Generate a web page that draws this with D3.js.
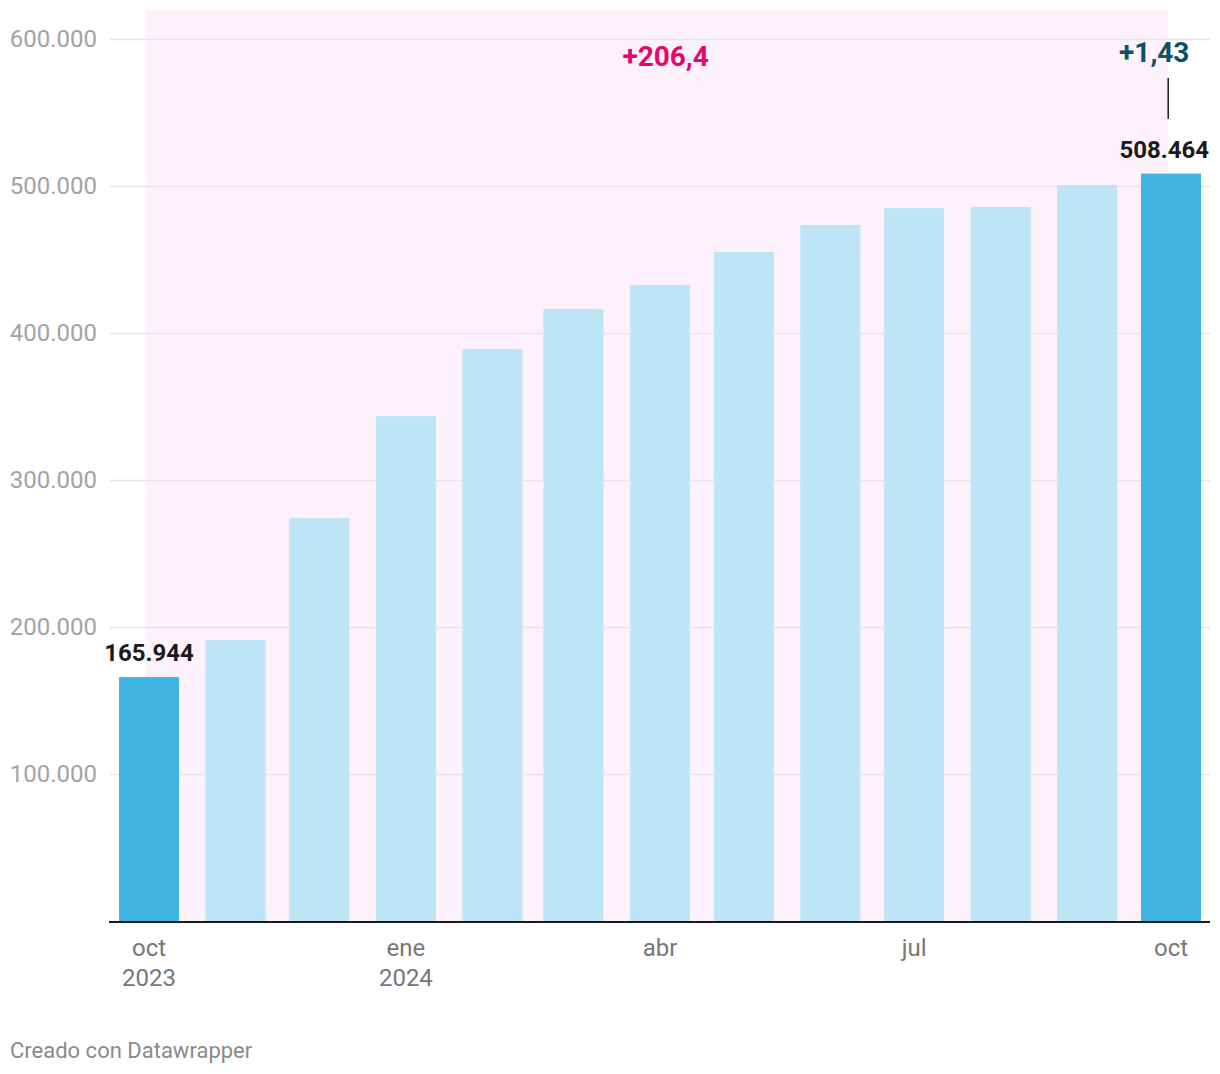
<!DOCTYPE html>
<html><head><meta charset="utf-8">
<script src="https://cdn.jsdelivr.net/npm/d3@7"></script>
<style>body{margin:0;background:#fff;font-family:Roboto,"Noto Sans",sans-serif;} svg{display:block}</style>
</head><body>
<svg id="c" width="1220" height="1074"></svg>
<script>
const months = ["2023-10-01","2023-11-01","2023-12-01","2024-01-01","2024-02-01","2024-03-01","2024-04-01","2024-05-01","2024-06-01","2024-07-01","2024-08-01","2024-09-01","2024-10-01"];
const values = [165944,191200,274100,343500,389100,416300,432700,455100,473500,485000,485700,500700,508464];
const highlighted = [true,false,false,false,false,false,false,false,false,false,false,false,true];
const yTicks = [100000,200000,300000,400000,500000,600000];
const xTickDates = ["2023-10-01","2024-01-01","2024-04-01","2024-07-01","2024-10-01"];
const xTickLabels = [["oct","2023"],["ene","2024"],["abr"],["jul"],["oct"]];
const bandRange = ["2023-09-30","2024-09-30"];
const annotations = [
  {text:"+206,4", date:"2024-04-03", value:581600, color:"#e5076a"},
  {text:"+1,43", date:"2024-09-25", value:584400, color:"#0f5069"}
];

const parse = d3.utcParse("%Y-%m-%d");
const svg = d3.select("#c");
const x = d3.scaleUtc().domain([parse(months[0]), parse(months[months.length-1])]).range([149,1171]);
const y = d3.scaleLinear().domain([0,600000]).range([921,39]);
const loc = d3.formatLocale({decimal:",",thousands:".",grouping:[3],currency:["","€"]});
const fmt = loc.format(",d");
const barW = 60;

// band
svg.append("rect").attr("x", x(parse(bandRange[0]))).attr("y", 10)
  .attr("width", x(parse(bandRange[1])) - x(parse(bandRange[0]))).attr("height", y(0)-10)
  .attr("fill","#fdf1fb");

// grid
const gy = svg.append("g").attr("transform","translate(1210,0)").call(d3.axisRight(y).tickValues(yTicks).tickSize(-1100).tickFormat(""));
gy.select(".domain").remove();
gy.selectAll("line").attr("stroke","#e6e6e6").attr("stroke-width",1.5);
// y labels
const gl = svg.append("g").attr("transform","translate(110,0)").call(d3.axisLeft(y).tickValues(yTicks).tickSize(0).tickFormat(fmt).tickPadding(13));
gl.select(".domain").remove();
gl.selectAll("text").attr("font-family","Roboto").attr("font-size",24).attr("fill","#a3a3a3");

// bars
const data = months.map((m,i)=>({date:parse(m), value:values[i], hi:highlighted[i]}));
svg.append("g").selectAll("rect").data(data).join("rect")
  .attr("x", d=>x(d.date)-barW/2).attr("width", barW)
  .attr("y", d=>y(d.value)).attr("height", d=>y(0)-y(d.value))
  .attr("fill", d=>d.hi?"#41b4e3":"#bee5f5");

// baseline
svg.append("line").attr("x1",109).attr("x2",1210).attr("y1",y(0)+1).attr("y2",y(0)+1)
  .attr("stroke","#1a1a1a").attr("stroke-width",2);

// x labels
const gx = svg.append("g");
xTickDates.forEach((d,i)=>{
  const t = gx.append("text").attr("x", x(parse(d))).attr("y", 956)
    .attr("text-anchor","middle").attr("font-family","Roboto").attr("font-size",24).attr("fill","#777");
  xTickLabels[i].forEach((s,j)=> t.append("tspan").attr("x", x(parse(d))).attr("dy", j===0?0:30).text(s));
});

// value labels
const first = data[0], last = data[data.length-1];
svg.append("text").attr("x", x(first.date)).attr("y", y(first.value)-16).attr("text-anchor","middle")
  .attr("font-family","Roboto").attr("font-weight","bold").attr("font-size",24).attr("fill","#1a1a1a").text(fmt(first.value));
svg.append("text").attr("x", 1209).attr("y", y(last.value)-16).attr("text-anchor","end")
  .attr("font-family","Roboto").attr("font-weight","bold").attr("font-size",24).attr("fill","#1a1a1a").text(fmt(last.value));

// annotations
annotations.forEach(a=>{
  svg.append("text").attr("x", x(parse(a.date))).attr("y", y(a.value)).attr("text-anchor","middle")
    .attr("font-family","Roboto").attr("font-weight","bold").attr("font-size",28).attr("fill",a.color).text(a.text);
});
svg.append("line").attr("x1", x(parse("2024-09-30"))).attr("x2", x(parse("2024-09-30")))
  .attr("y1", y(573500)).attr("y2", y(545600)).attr("stroke","#1a1a1a").attr("stroke-width",1.5);

// footer
svg.append("text").attr("x",10).attr("y",1058).attr("font-family","Roboto").attr("font-size",22).attr("fill","#8a8a8a").text("Creado con Datawrapper");
</script>
</body></html>
